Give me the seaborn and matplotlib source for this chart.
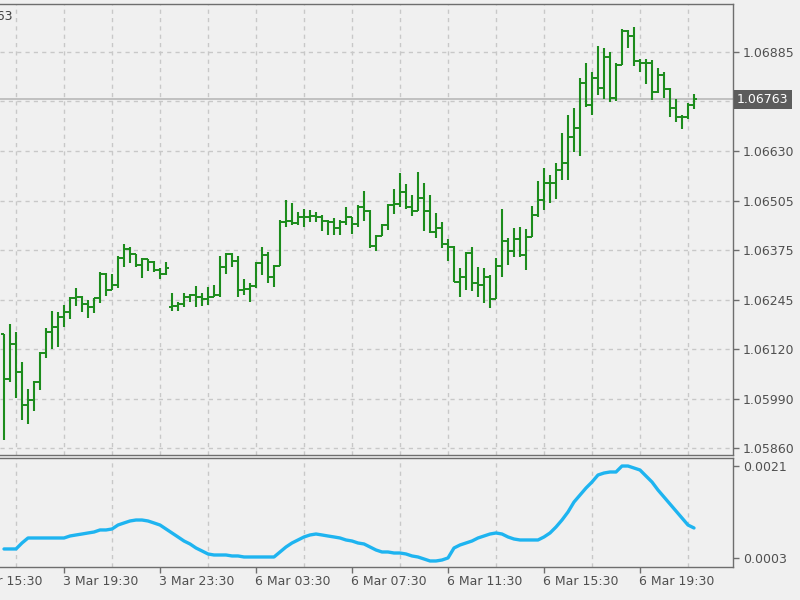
import numpy as np
import pandas as pd
import seaborn as sns
import matplotlib
matplotlib.use('Agg')
import matplotlib.pyplot as plt

# EURUSD M15 bars (bar index 0 = first bar at the left edge)
bar_open = [1.06155, 1.06039, 1.06129, 1.06057, 1.05972, 1.05984, 1.06031, 1.06106, 1.06160, 1.06173,
            1.06199, 1.06212, 1.06248, 1.06251, 1.06233, 1.06225, 1.06248, 1.06311, 1.06269, 1.06282,
            1.06352, 1.06375, 1.06362, 1.06334, 1.06349, 1.06342, 1.06321, 1.06311, 1.06225, 1.06228,
            1.06233, 1.06251, 1.06256, 1.06251, 1.06246, 1.06251, 1.06256, 1.06329, 1.06362, 1.06344,
            1.06269, 1.06272, 1.06279, 1.06339, 1.06360, 1.06303, 1.06331, 1.06445, 1.06448, 1.06443,
            1.06458, 1.06458, 1.06461, 1.06458, 1.06448, 1.06445, 1.06430, 1.06445, 1.06458, 1.06440,
            1.06484, 1.06473, 1.06383, 1.06409, 1.06437, 1.06489, 1.06492, 1.06523, 1.06484, 1.06473,
            1.06507, 1.06473, 1.06419, 1.06430, 1.06388, 1.06380, 1.06290, 1.06303, 1.06365, 1.06287,
            1.06282, 1.06303, 1.06246, 1.06331, 1.06396, 1.06370, 1.06401, 1.06360, 1.06406, 1.06463,
            1.06502, 1.06546, 1.06546, 1.06580, 1.06598, 1.06665, 1.06688, 1.06805, 1.06748, 1.06818,
            1.06792, 1.06872, 1.06766, 1.06851, 1.06939, 1.06926, 1.06862, 1.06857, 1.06857, 1.06782,
            1.06826, 1.06789, 1.06740, 1.06717, 1.06717, 1.06748]
bar_high = [1.06155, 1.06181, 1.06160, 1.06083, 1.06013, 1.06034, 1.06109, 1.06171, 1.06215, 1.06212,
            1.06230, 1.06251, 1.06274, 1.06254, 1.06243, 1.06248, 1.06316, 1.06313, 1.06311, 1.06357,
            1.06388, 1.06380, 1.06362, 1.06352, 1.06349, 1.06344, 1.06326, 1.06342, 1.06261, 1.06238,
            1.06261, 1.06259, 1.06279, 1.06261, 1.06277, 1.06282, 1.06357, 1.06365, 1.06365, 1.06357,
            1.06298, 1.06287, 1.06342, 1.06380, 1.06367, 1.06334, 1.06450, 1.06502, 1.06494, 1.06471,
            1.06479, 1.06476, 1.06471, 1.06463, 1.06450, 1.06455, 1.06450, 1.06484, 1.06458, 1.06489,
            1.06525, 1.06476, 1.06411, 1.06440, 1.06492, 1.06530, 1.06572, 1.06543, 1.06515, 1.06574,
            1.06546, 1.06515, 1.06468, 1.06445, 1.06401, 1.06383, 1.06326, 1.06367, 1.06380, 1.06329,
            1.06326, 1.06308, 1.06352, 1.06479, 1.06404, 1.06430, 1.06432, 1.06427, 1.06486, 1.06551,
            1.06585, 1.06567, 1.06598, 1.06675, 1.06722, 1.06740, 1.06818, 1.06857, 1.06833, 1.06901,
            1.06895, 1.06885, 1.06857, 1.06944, 1.06942, 1.06950, 1.06867, 1.06867, 1.06864, 1.06844,
            1.06833, 1.06792, 1.06763, 1.06722, 1.06753, 1.06776]
bar_low = [1.05881, 1.06031, 1.05990, 1.05933, 1.05922, 1.05956, 1.06010, 1.06093, 1.06116, 1.06122,
           1.06173, 1.06194, 1.06228, 1.06212, 1.06197, 1.06210, 1.06235, 1.06254, 1.06269, 1.06274,
           1.06329, 1.06339, 1.06329, 1.06300, 1.06318, 1.06316, 1.06298, 1.06308, 1.06215, 1.06215,
           1.06225, 1.06238, 1.06225, 1.06228, 1.06230, 1.06251, 1.06251, 1.06311, 1.06329, 1.06251,
           1.06256, 1.06238, 1.06274, 1.06308, 1.06287, 1.06277, 1.06331, 1.06432, 1.06437, 1.06437,
           1.06432, 1.06445, 1.06445, 1.06422, 1.06411, 1.06411, 1.06411, 1.06437, 1.06414, 1.06432,
           1.06448, 1.06378, 1.06370, 1.06409, 1.06424, 1.06466, 1.06484, 1.06479, 1.06461, 1.06473,
           1.06422, 1.06417, 1.06404, 1.06378, 1.06344, 1.06290, 1.06251, 1.06269, 1.06267, 1.06251,
           1.06235, 1.06223, 1.06246, 1.06303, 1.06334, 1.06354, 1.06354, 1.06321, 1.06406, 1.06458,
           1.06476, 1.06494, 1.06505, 1.06554, 1.06554, 1.06626, 1.06616, 1.06743, 1.06722, 1.06774,
           1.06763, 1.06756, 1.06758, 1.06851, 1.06895, 1.06849, 1.06833, 1.06802, 1.06761, 1.06779,
           1.06766, 1.06717, 1.06704, 1.06686, 1.06712, 1.06738]
bar_close = [1.06039, 1.06129, 1.06057, 1.05972, 1.05984, 1.06031, 1.06106, 1.06160, 1.06173, 1.06199,
             1.06212, 1.06248, 1.06251, 1.06233, 1.06225, 1.06248, 1.06311, 1.06269, 1.06282, 1.06352,
             1.06375, 1.06362, 1.06334, 1.06349, 1.06342, 1.06321, 1.06311, 1.06326, 1.06228, 1.06233,
             1.06251, 1.06256, 1.06251, 1.06246, 1.06251, 1.06256, 1.06329, 1.06362, 1.06344, 1.06269,
             1.06272, 1.06279, 1.06339, 1.06360, 1.06303, 1.06331, 1.06445, 1.06448, 1.06443, 1.06458,
             1.06458, 1.06461, 1.06458, 1.06448, 1.06445, 1.06430, 1.06445, 1.06458, 1.06440, 1.06484,
             1.06473, 1.06383, 1.06409, 1.06437, 1.06489, 1.06492, 1.06523, 1.06484, 1.06473, 1.06507,
             1.06473, 1.06419, 1.06430, 1.06388, 1.06380, 1.06290, 1.06303, 1.06365, 1.06287, 1.06282,
             1.06303, 1.06246, 1.06331, 1.06396, 1.06370, 1.06401, 1.06360, 1.06406, 1.06463, 1.06502,
             1.06546, 1.06546, 1.06580, 1.06598, 1.06665, 1.06688, 1.06805, 1.06748, 1.06818, 1.06792,
             1.06872, 1.06766, 1.06851, 1.06939, 1.06926, 1.06862, 1.06857, 1.06857, 1.06782, 1.06826,
             1.06789, 1.06740, 1.06717, 1.06717, 1.06748, 1.06763]

# indicator in the lower window
std_dev = [0.000476, 0.000476, 0.000476, 0.000593, 0.000691, 0.000691, 0.000691, 0.000691, 0.000691, 0.000691,
           0.000691, 0.000730, 0.000750, 0.000769, 0.000789, 0.000808, 0.000848, 0.000848, 0.000867, 0.000945,
           0.000985, 0.001024, 0.001043, 0.001043, 0.001024, 0.000985, 0.000945, 0.000867, 0.000789, 0.000711,
           0.000632, 0.000574, 0.000495, 0.000437, 0.000378, 0.000358, 0.000358, 0.000358, 0.000339, 0.000339,
           0.000319, 0.000319, 0.000319, 0.000319, 0.000319, 0.000319, 0.000417, 0.000515, 0.000593, 0.000652,
           0.000711, 0.000750, 0.000769, 0.000750, 0.000730, 0.000711, 0.000691, 0.000652, 0.000632, 0.000593,
           0.000574, 0.000515, 0.000456, 0.000417, 0.000417, 0.000397, 0.000397, 0.000378, 0.000339, 0.000319,
           0.000280, 0.000241, 0.000241, 0.000260, 0.000300, 0.000495, 0.000554, 0.000593, 0.000632, 0.000691,
           0.000730, 0.000769, 0.000789, 0.000769, 0.000711, 0.000671, 0.000652, 0.000652, 0.000652, 0.000652,
           0.000711, 0.000789, 0.000906, 0.001043, 0.001200, 0.001395, 0.001532, 0.001669, 0.001787, 0.001924,
           0.001963, 0.001983, 0.001983, 0.002100, 0.002100, 0.002061, 0.002022, 0.001904, 0.001787, 0.001630,
           0.001493, 0.001356, 0.001219, 0.001082, 0.000945, 0.000887]

time_labels = ['3 Mar 15:30', '3 Mar 19:30', '3 Mar 23:30', '6 Mar 03:30',
               '6 Mar 07:30', '6 Mar 11:30', '6 Mar 15:30', '6 Mar 19:30']
label_bars = [-6, 10, 26, 42, 58, 74, 90, 106]
price_labels = ['1.05860', '1.05990', '1.06120', '1.06245', '1.06375',
                '1.06505', '1.06630', '', '1.06885']
ind_ticks = [0.0003, 0.0021]
ind_labels = ['0.0003', '0.0021']
last_price = 1.06763

bg = '#F0F0F0'
green = '#1C8C1C'
frame = '#6E6E6E'
txt = '#505050'

sns.set_theme(style='white', rc={'axes.facecolor': bg, 'figure.facecolor': bg,
                                 'axes.edgecolor': frame})
plt.rcParams['font.family'] = ['DejaVu Sans']

df = pd.DataFrame({'open': bar_open, 'high': bar_high, 'low': bar_low,
                   'close': bar_close, 'std': std_dev})
df['bar'] = np.arange(len(df))

fig = plt.figure(figsize=(8, 6), dpi=100)
W, H = 800.0, 600.0
ax = fig.add_axes([0, 1 - 455 / H, 733 / W, (455 - 4) / H])
ax2 = fig.add_axes([0, 1 - 567 / H, 733 / W, (567 - 458) / H])

xlim = (-4 / 6, 729 / 6)
grid_bars = np.arange(2, 122, 8)
in_range = [b for b in label_bars if b >= xlim[0]]
grid_style = dict(color='#C8C8C8', linestyle=(0, (3, 3)), linewidth=1)

# ---- price window ----
ax.set_xlim(xlim)
ax.set_ylim(1.058420, 1.070092)
ax.axhline(last_price, color='#B8B8B8', lw=1.2, zorder=1)
ax.vlines(df['bar'], df['low'], df['high'], color=green, lw=1.5, zorder=3)
ax.hlines(df['open'], df['bar'] - 0.42, df['bar'], color=green, lw=1.4, zorder=3)
ax.hlines(df['close'], df['bar'], df['bar'] + 0.42, color=green, lw=1.4, zorder=3)

price_ticks = np.linspace(1.05860, 1.06885, 9)
ax.set_yticks(price_ticks)
ax.set_yticklabels(price_labels)
ax.yaxis.tick_right()
ax.set_xticks(grid_bars)
ax.set_xticklabels([])
ax.tick_params(axis='x', length=0)
ax.tick_params(axis='y', direction='out', length=4, width=1, color=frame,
               labelcolor=txt, labelsize=9, pad=3)
ax.grid(True, **grid_style)
ax.set_axisbelow(True)
for s in ['top', 'right', 'bottom']:
    ax.spines[s].set_color(frame)
    ax.spines[s].set_linewidth(1)
ax.spines['left'].set_visible(False)

ax.annotate(f'{last_price:.5f}', xy=(1, last_price), xycoords=('axes fraction', 'data'),
            xytext=(4, 0), textcoords='offset pixels', ha='left', va='center',
            color='white', fontsize=9, annotation_clip=False,
            bbox=dict(boxstyle='square,pad=0.25', fc='#5C5C5C', ec='none'))
fig.text(13 / W, 1 - 17 / H, f'{last_price:.5f}', ha='right', va='center',
         color='#404040', fontsize=9)

# ---- indicator window ----
sns.lineplot(data=df, x='bar', y='std', ax=ax2, color='#1EB4F0', lw=2.4)
ax2.set_xlim(xlim)
ax2.set_ylim(0.000123, 0.002257)
ax2.set_xlabel('')
ax2.set_ylabel('')
ax2.set_yticks(ind_ticks)
ax2.set_yticklabels(ind_labels)
ax2.yaxis.tick_right()
ax2.tick_params(axis='y', direction='out', length=4, width=1, color=frame,
                labelcolor=txt, labelsize=9, pad=3)
ax2.set_xticks(in_range)
ax2.set_xticklabels([])
ax2.tick_params(axis='x', direction='out', length=4, width=1, color=frame, bottom=True)
ax2.set_xticks(grid_bars, minor=True)
ax2.tick_params(axis='x', which='minor', length=0)
ax2.grid(True, which='minor', axis='x', **grid_style)
ax2.set_axisbelow(True)
for s in ['top', 'right', 'bottom']:
    ax2.spines[s].set_color(frame)
    ax2.spines[s].set_linewidth(1)
ax2.spines['left'].set_visible(False)

for b, lbl in zip(label_bars, time_labels):
    ax2.annotate(lbl, xy=(b, 0), xycoords=('data', 'axes fraction'),
                 xytext=(-1, -8), textcoords='offset pixels', ha='left', va='top',
                 color=txt, fontsize=9, annotation_clip=False)

fig.savefig('out.png', dpi=100, facecolor=bg)
